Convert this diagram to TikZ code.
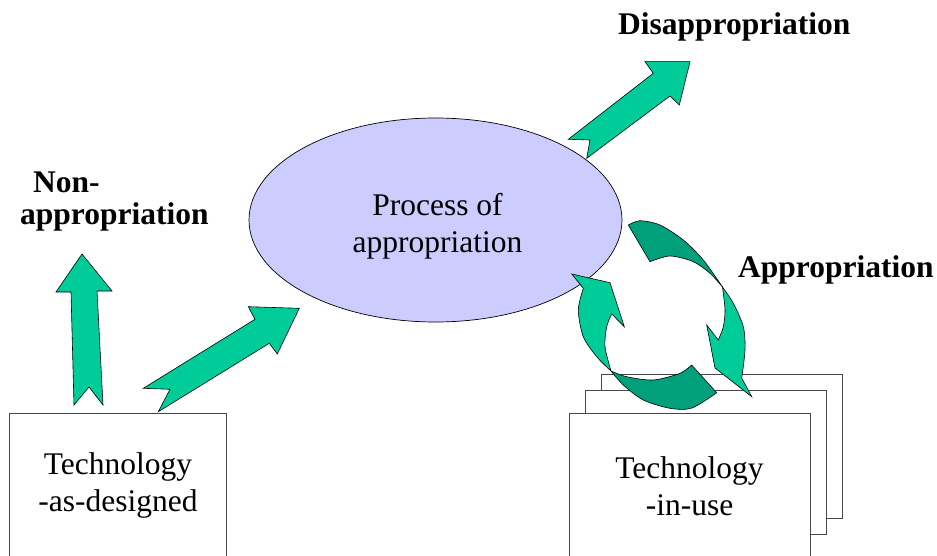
\documentclass[tikz,border=0pt]{standalone}
\usepackage{fontspec}
\setmainfont{Liberation Serif}
\usetikzlibrary{shapes.geometric}
\definecolor{lightg}{RGB}{0,204,153}
\definecolor{darkg}{RGB}{0,160,122}
\definecolor{lav}{RGB}{204,204,255}
\begin{document}
\begin{tikzpicture}[x=1pt,y=-1pt,
  txt/.style={inner sep=0pt, font=\fontsize{31.5}{37}\selectfont, align=center},
  btxt/.style={inner sep=0pt, font=\fontsize{31.5}{37}\selectfont\bfseries},
  techbox/.style={draw=black!72, line width=1.1pt, fill=white, inner sep=0pt, anchor=north west},
  fat/.style={fill=lightg, draw=black, line width=0.6pt, line join=miter},
  darkfat/.style={fill=darkg, draw=black, line width=0.6pt, line join=miter}]
\useasboundingbox (0,0) rectangle (937,556);
\fill[white] (0,0) rectangle (937,556);

% boxes
\node[techbox, minimum width=217pt, minimum height=175pt] (asdesigned) at (9,413) {};
\node[txt] (asdtext) at (118,485.2) {Technology\\-as-designed};

\node[techbox, minimum width=241pt, minimum height=144pt] (back) at (601,374) {};
\node[techbox, minimum width=241pt, minimum height=144pt] (middle) at (585,390) {};
\node[techbox, minimum width=241pt, minimum height=175pt] (front) at (569,413) {};
\node[txt] (inusetext) at (689.5,485.9) {Technology\\-in-use};

% ellipse
\node[ellipse, draw=black, line width=0.7pt, fill=lav, minimum width=373pt, minimum height=204pt, inner sep=0pt] (proc) at (435.5,220) {};
\node[txt] (proctext) at (437.5,226.2) {Process of\\appropriation};

% labels
\node[btxt, anchor=base west] (disl) at (618,35) {Disappropriation};
\node[btxt, anchor=base west] (appl) at (738,277) {Appropriation};
\node[btxt, anchor=base west] (nonl) at (33,193) {Non-};
\node[btxt, anchor=base west] (nonl2) at (20,225) {appropriation};

% straight block arrows
\filldraw[fat] (82,254) -- (112,291) -- (97,291) -- (103,405) -- (89,387) -- (74,405) -- (71,292) -- (56,292) -- cycle;
\filldraw[fat] (299.3,308.3) -- (277.3,354) -- (269.3,343.3) -- (158.3,411.7) -- (170,389.3) -- (143.3,388.3) -- (255,319.3) -- (248.3,306.7) -- cycle;
\filldraw[fat] (690,61.7) -- (679.3,105) -- (670,96) -- (586.7,158.3) -- (590,140) -- (568.3,139.3) -- (653.3,73.3) -- (645,61.7) -- cycle;

% circular arrow A (top right, going down)
\filldraw[darkfat] plot[smooth] coordinates {(628.3,225) (640,220.7) (660,225) (683.3,240) (703.3,260) (722.5,287)}
  -- plot[smooth] coordinates {(722.5,287) (710,273.3) (693.3,261.7) (670,256) (650,261.7)} -- cycle;
\filldraw[fat] plot[smooth] coordinates {(722.5,287) (733.3,303.3) (743.3,326.7) (745,350) (741.7,378)}
  -- (751.7,396.7) -- (715,368) -- (706.7,325)
  -- plot[smooth] coordinates {(718.3,340) (723.3,326.7) (725,310) (722.5,287)} -- cycle;

% circular arrow B (bottom left, going up)
\filldraw[darkfat] plot[smooth] coordinates {(611,371) (623.3,385) (643.3,400) (670,408.3) (692,408) (716.7,392.7)}
  -- plot[smooth] coordinates {(691.7,365) (680,373.3) (653.3,380) (626.7,376.7) (611,371)} -- cycle;
\filldraw[fat] plot[smooth] coordinates {(611,371) (596.7,356.7) (583.3,336.7) (578.3,310) (583.3,288.3)}
  -- (571.7,274) -- (610,282.7) -- (624.3,326.7)
  -- plot[smooth] coordinates {(611.7,314) (606.7,326.7) (605,346.7) (611,371)} -- cycle;
\end{tikzpicture}
\end{document}
